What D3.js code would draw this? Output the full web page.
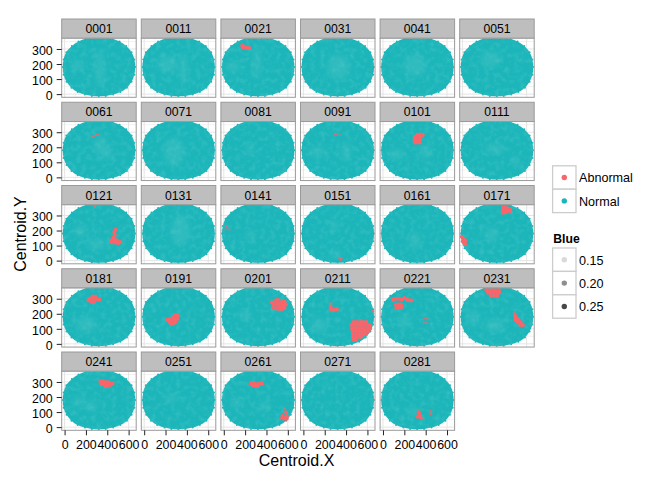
<!DOCTYPE html>
<html><head><meta charset="utf-8">
<script src="https://cdn.jsdelivr.net/npm/d3@7/dist/d3.min.js"></script>
<style>html,body{margin:0;padding:0;background:#fff}svg{display:block}text{font-family:"Liberation Sans",Arial,sans-serif;fill:#000}</style>
</head><body><svg id="c" width="672" height="480"></svg>
<script>
const panels=["0001","0011","0021","0031","0041","0051","0061","0071","0081","0091","0101","0111","0121","0131","0141","0151","0161","0171","0181","0191","0201","0211","0221","0231","0241","0251","0261","0271","0281"];
const xTicks=[0,200,400,600], xMinor=[100,300,500];
const yTicks=[0,100,200,300], yMinor=[50,150,250,350];
// wafer boundary (Centroid.X, Centroid.Y)
const waferOutline=[[200,370],[260,377],[320,378],[385,377],[450,368],[515,349],[578,319],[628,278],[654,230],[662,180],[654,128],[628,82],[584,43],[522,14],[455,-3],[385,-12],[320,-14],[255,-12],[190,-3],[122,14],[64,43],[18,82],[-9,128],[-17,180],[-9,230],[16,278],[68,319],[130,349]];
// lighter, less dense areas per wafer: x, y, spread x, spread y
const paleAreas={"0001":[[330,170,40,120],[120,190,60,30]],"0011":[[370,170,30,100],[220,200,90,50]],"0021":[[310,210,30,110],[90,180,60,30]],"0031":[[330,180,100,80]],"0041":[[300,190,100,70]],"0051":[[260,230,90,50]],"0061":[[340,210,60,60],[400,160,40,40]],"0071":[[280,170,90,90]],"0081":[[240,190,25,45]],"0091":[[130,170,80,30],[400,170,40,60]],"0101":[[120,150,80,30],[400,170,50,40]],"0111":[[300,190,90,30],[500,100,30,30]],"0121":[[150,200,50,40],[300,110,80,30]],"0131":[[340,200,80,100]],"0141":[[250,170,40,25]],"0151":[[290,230,40,30],[300,40,50,20]],"0161":[[300,130,50,50]],"0171":[[270,170,50,50]],"0181":[[200,130,90,50]],"0201":[[200,190,50,30]],"0211":[[150,120,70,40]],"0221":[[200,150,50,40]],"0231":[[100,170,50,50],[300,120,90,40]],"0241":[[130,170,50,30],[250,140,50,30]],"0251":[[250,190,50,25]],"0261":[[120,160,40,30],[380,140,50,25]],"0271":[[220,280,30,15]],"0281":[[280,100,50,30]]};
// abnormal die sites per wafer, large clusters
const abnormal={
"0021":[[172,322],[178,312],[195,308],[215,308],[238,307],[185,318]],
"0101":[[300,232],[320,232],[345,232],[295,250],[320,250],[345,250],[300,268],[325,268],[350,272],[372,282],[345,285],[318,283]],
"0121":[[480,205],[465,190],[470,170],[460,155],[440,135],[440,122],[465,140],[490,135],[510,125],[470,122],[495,122],[520,122],[450,122],[475,132],[500,115]],
"0171":[[378,352],[398,352],[420,348],[445,342],[448,330],[425,332],[400,335],[378,335],[378,318],[398,322],[-8,158],[8,145],[25,135],[5,125],[20,118],[22,108]],
"0181":[[225,290],[250,280],[275,278],[255,305],[280,300],[310,295],[325,295],[290,315],[265,315],[235,298]],
"0191":[[218,160],[240,165],[265,172],[290,188],[310,188],[310,165],[290,160],[260,150],[235,145],[268,135],[250,132],[290,142]],
"0201":[[450,275],[470,265],[495,260],[520,250],[545,245],[570,255],[582,262],[460,245],[490,235],[520,232],[545,232],[565,236],[490,290],[510,292],[545,280],[570,280],[500,270],[530,268],[555,262]],
"0211":[[255,245],[255,228],[285,228],[315,230],[470,145],[500,145],[530,145],[560,145],[590,145],[455,125],[485,125],[515,125],[545,125],[575,125],[605,125],[622,120],[455,105],[485,105],[515,105],[545,105],[575,105],[605,105],[625,100],[460,85],[490,85],[520,85],[550,85],[580,85],[610,85],[465,65],[495,65],[525,65],[555,65],[585,65],[465,45],[495,45],[525,45],[540,48],[468,25],[490,28]],
"0221":[[95,295],[120,300],[150,300],[175,295],[200,305],[225,295],[250,290],[268,288],[120,260],[145,262],[170,262],[125,240],[150,240],[175,245]],
"0231":[[222,358],[250,358],[280,358],[310,358],[340,358],[238,340],[265,340],[295,340],[325,340],[345,342],[265,320],[295,320],[325,320],[490,190],[500,175],[495,160],[520,165],[530,150],[515,145],[545,140],[540,125],[565,125]],
"0241":[[335,303],[360,305],[385,300],[410,298],[435,290],[450,290],[345,285],[375,283],[400,280],[425,280],[380,272],[400,272]],
"0261":[[255,290],[280,290],[305,285],[330,290],[355,288],[270,278],[295,275],[320,275],[585,95],[590,70],[570,65],[550,75],[545,60],[565,55],[590,55]],
"0281":[[335,98],[342,80],[328,70],[350,66]]
};
// abnormal die sites per wafer, isolated fine marks
const abnormalFine={
"0061":[[256,272],[275,275],[295,282],[312,284]],
"0091":[[295,288],[315,285],[340,282]],
"0121":[[275,362]],
"0141":[[15,207],[35,212],[55,205],[30,225]],
"0151":[[335,10],[350,12],[360,17],[348,4]],
"0211":[[262,262],[262,272],[650,222],[655,215]],
"0221":[[382,168],[400,168],[416,168],[382,138],[400,138],[416,138]],
"0231":[[480,208],[485,198],[570,118]],
"0261":[[240,285],[372,284],[570,118],[578,108]],
"0281":[[320,62],[368,62],[380,62],[440,108],[452,100],[456,92],[444,84]]
};
const colourLabels=["Abnormal","Normal"], colourValues=["#f8656a","#1cb6ba"];
const blueLabels=["0.15","0.20","0.25"], blueValues=["#d9d9d9","#8f8f8f","#474747"];

const svg=d3.select("#c");
const defs=svg.append("defs");
defs.append("filter").attr("id","soft").attr("x","-60%").attr("y","-60%").attr("width","220%").attr("height","220%").append("feGaussianBlur").attr("stdDeviation",2.6);
defs.append("filter").attr("id","edge").attr("x","-5%").attr("y","-5%").attr("width","110%").attr("height","110%").append("feGaussianBlur").attr("stdDeviation",.5);
defs.append("clipPath").attr("id","pc").append("rect").attr("width",74.5).attr("height",59);
const panelW=74.5,panelH=59,stepX=79.6,stepY=83.25,left=61.7,top0=38.3,stripH=19.3;
const x=d3.scaleLinear().domain([-27,671]).range([0,panelW]);
const y=d3.scaleLinear().domain([-14.5,371]).range([panelH-1.0,-0.0]);
const line=d3.line().x(d=>x(d[0])).y(d=>y(d[1])).curve(d3.curveCatmullRomClosed);

panels.forEach((id,i)=>{
  const col=i%6,row=Math.floor(i/6);
  const g=svg.append("g").attr("transform",`translate(${left+col*stepX},${top0+row*stepY})`);
  g.append("rect").attr("x",0).attr("y",-stripH).attr("width",panelW).attr("height",stripH).attr("fill","#bebebe").attr("stroke","#9a9a9a").attr("stroke-width",1);
  g.append("text").attr("x",panelW/2).attr("y",-5.2).attr("text-anchor","middle").attr("font-size",12.2).text(id);
  g.append("rect").attr("width",panelW).attr("height",panelH).attr("fill","#fff");
  const grid=g.append("g").attr("clip-path","url(#pc)");
  const gl=(vals,vert,c)=>grid.selectAll(null).data(vals).join("line")
    .attr("x1",d=>vert?x(d):0).attr("x2",d=>vert?x(d):panelW).attr("y1",d=>vert?0:y(d)).attr("y2",d=>vert?panelH:y(d)).attr("stroke",c).attr("stroke-width",1);
  gl(xMinor,true,"#f2f2f2");gl(yMinor,false,"#f2f2f2");gl(xTicks,true,"#e5e5e5");gl(yTicks,false,"#e5e5e5");
  const marks=g.append("g").attr("clip-path","url(#pc)");
  // soft rim with slight bumps from the boundary sites
  const disc=marks.append("g").attr("filter","url(#edge)");
  disc.selectAll("circle.rim").data(waferOutline).join("circle").attr("class","rim")
    .attr("cx",d=>x(d[0])).attr("cy",d=>y(d[1])).attr("r",1).attr("fill","#1cb6ba");
  disc.append("path").attr("d",line(waferOutline)).attr("fill","#1db6ba");
  // faint mottling of overlapping translucent points
  const noise=defs.append("filter").attr("id","m"+i).attr("x",0).attr("y",0).attr("width","100%").attr("height","100%");
  noise.append("feTurbulence").attr("type","fractalNoise").attr("baseFrequency",.2).attr("numOctaves",2).attr("seed",i+3).attr("result","n");
  noise.append("feColorMatrix").attr("in","n").attr("type","matrix").attr("values","0 0 0 0 .45  0 0 0 0 .82  0 0 0 0 .83  2.4 0 0 0 -1.05").attr("result","c");
  noise.append("feGaussianBlur").attr("in","c").attr("stdDeviation",.7).attr("result","b");
  noise.append("feComposite").attr("in","b").attr("in2","SourceAlpha").attr("operator","in");
  marks.append("path").attr("d",line(waferOutline)).attr("fill","#000").attr("filter",`url(#m${i})`).attr("opacity",.14);
  marks.append("g").attr("filter","url(#soft)").selectAll("ellipse").data(paleAreas[id]||[]).join("ellipse")
    .attr("cx",d=>x(d[0])).attr("cy",d=>y(d[1])).attr("rx",d=>x(d[2])-x(0)).attr("ry",d=>y(0)-y(d[3])).attr("fill","#5cc9cb").attr("opacity",.3);
  marks.selectAll("circle.ab").data(abnormal[id]||[]).join("circle").attr("class","ab")
    .attr("cx",d=>x(d[0])).attr("cy",d=>y(d[1])).attr("r",2).attr("fill",colourValues[0]);
  marks.selectAll("circle.abf").data(abnormalFine[id]||[]).join("circle").attr("class","abf")
    .attr("cx",d=>x(d[0])).attr("cy",d=>y(d[1])).attr("r",1).attr("fill",colourValues[0]).attr("opacity",.85);
  g.append("rect").attr("width",panelW).attr("height",panelH).attr("fill","none").attr("stroke","#9a9a9a").attr("stroke-width",1);
  if(col===0){
    const a=g.append("g").call(d3.axisLeft(y).tickValues(yTicks).tickSize(5).tickPadding(4));
    a.select(".domain").remove();
    a.selectAll("line").attr("stroke","#222").attr("stroke-width",1);
    a.selectAll("text").attr("font-size",12.4).attr("font-family","Liberation Sans").attr("fill","#000").attr("dy",".42em");
  }
  if(row===4){
    const a=g.append("g").attr("transform",`translate(0,${panelH})`).call(d3.axisBottom(x).tickValues(xTicks).tickSize(5).tickPadding(5));
    a.select(".domain").remove();
    a.selectAll("line").attr("stroke","#222").attr("stroke-width",1);
    a.selectAll("text").attr("font-size",12.4).attr("font-family","Liberation Sans").attr("fill","#000");
  }
});
svg.append("text").attr("x",296.5).attr("y",466).attr("text-anchor","middle").attr("font-size",16).text("Centroid.X");
svg.append("text").attr("transform","translate(26,234) rotate(-90)").attr("text-anchor","middle").attr("font-size",16).text("Centroid.Y");

const keyW=23.4,keyX=552.6;
function legend(labels,colours,y0){
  const g=svg.append("g").attr("transform",`translate(${keyX},${y0})`);
  labels.forEach((l,i)=>{
    g.append("rect").attr("y",i*keyW).attr("width",keyW).attr("height",keyW).attr("fill","#fff").attr("stroke","#cccccc").attr("stroke-width",1.3);
    g.append("circle").attr("cx",keyW/2).attr("cy",i*keyW+keyW/2).attr("r",2.7).attr("fill",colours[i]);
    g.append("text").attr("x",keyW+3).attr("y",i*keyW+keyW/2+4.9).attr("font-size",12.6).text(l);
  });
}
legend(colourLabels,colourValues,165.8);
svg.append("text").attr("x",553.3).attr("y",243).attr("font-size",12.2).attr("font-weight","bold").text("Blue");
legend(blueLabels,blueValues,248);
</script></body></html>
